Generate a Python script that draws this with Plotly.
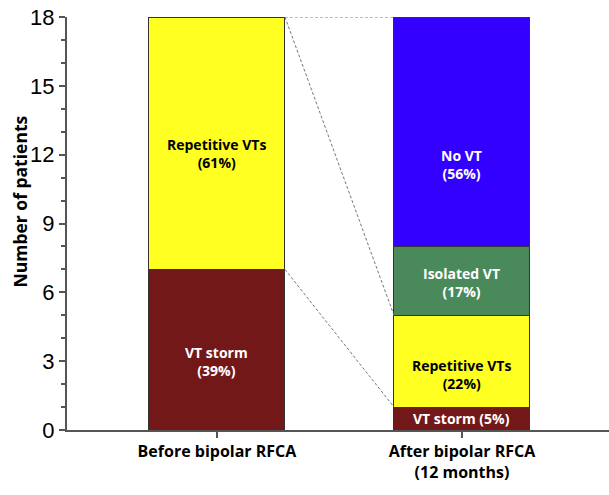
import plotly.graph_objects as go
import numpy as np

categories = ["Before bipolar RFCA", "After bipolar RFCA<br>(12 months)"]
segments = ["VT storm", "Repetitive VTs", "Isolated VT", "No VT"]
before_vals = [7, 11, 0, 0]
after_vals = [1, 4, 3, 10]
before_labels = ["VT storm<br>(39%)", "Repetitive VTs<br>(61%)", "", ""]
after_labels = ["VT storm (5%)", "Repetitive VTs<br>(22%)", "Isolated VT<br>(17%)", "No VT<br>(56%)"]
colors = ["#731818", "#FFFF22", "#4A8A5A", "#3300FF"]
text_colors = ["white", "black", "white", "white"]
yticks = [0, 3, 6, 9, 12, 15, 18]
y_title = "Number of patients"

# label placement nudges (styling, in axis units)
before_nudge = [-0.5, -0.45, 0, 0]
after_nudge = [0, -0.6, -0.05, -1.45]

xpos = [0, 1]
bw = 0.555
font_lbl = "Open Sans"

fig = go.Figure()
for i, seg in enumerate(segments):
    fig.add_trace(go.Bar(
        x=xpos, y=[before_vals[i], after_vals[i]], name=seg, width=bw,
        marker=dict(color=colors[i], line=dict(color="#333333", width=1)),
        showlegend=False, hoverinfo="skip"))

# labels
for xi, vals, labs, nud in [(0, before_vals, before_labels, before_nudge),
                            (1, after_vals, after_labels, after_nudge)]:
    cum = np.cumsum([0] + vals)
    for i, v in enumerate(vals):
        if v > 0 and labs[i]:
            fig.add_annotation(x=xi, y=(cum[i] + cum[i + 1]) / 2 + nud[i], text="<b>" + labs[i] + "</b>",
                               showarrow=False, font=dict(family=font_lbl, size=14, color=text_colors[i]))

# dashed connectors
bc = np.cumsum(before_vals)
ac = np.cumsum(after_vals)
x0 = xpos[0] + bw / 2
x1 = xpos[1] - bw / 2
pairs = [(bc[-1], ac[-1]), (bc[-1], ac[1]), (bc[0], ac[0])]
for yb, ya in pairs:
    fig.add_trace(go.Scatter(x=[x0, x1], y=[yb, ya], mode="lines",
                             line=dict(color="#777777", width=1, dash="3px,2px"),
                             showlegend=False, hoverinfo="skip"))

# y axis title
fig.add_annotation(xref="paper", yref="paper", x=0, y=0.5, xshift=-48, yshift=22,
                   xanchor="center", yanchor="middle",
                   text="<b>" + y_title + "</b>", textangle=-90, showarrow=False,
                   font=dict(family=font_lbl, size=17.5, color="black"))

fig.update_layout(
    barmode="stack", width=609, height=495,
    margin=dict(l=67, r=0, t=17, b=65),
    plot_bgcolor="white", paper_bgcolor="white",
    xaxis=dict(range=[-0.612, 1.6], tickvals=xpos, ticktext=["<b>" + c + "</b>" for c in categories],
               showline=True, linecolor="#555555", linewidth=2, ticks="outside", ticklen=6,
               tickcolor="#555555", tickwidth=2, showgrid=False, zeroline=False,
               tickfont=dict(family=font_lbl, size=16, color="black")),
    yaxis=dict(range=[0, 18], tickvals=yticks, showline=True, linecolor="#555555", linewidth=2,
               ticks="outside", ticklen=6, tickcolor="#555555", tickwidth=2, showgrid=False,
               zeroline=False, tickfont=dict(family="Liberation Sans", size=22, color="black"),
               minor=dict(dtick=1, ticks="outside", ticklen=4, tickcolor="#555555", tickwidth=1.5)),
)
fig.write_html("out.html", config={"displayModeBar": False},
               post_script="document.body.style.margin='0';document.body.style.padding='0';")
